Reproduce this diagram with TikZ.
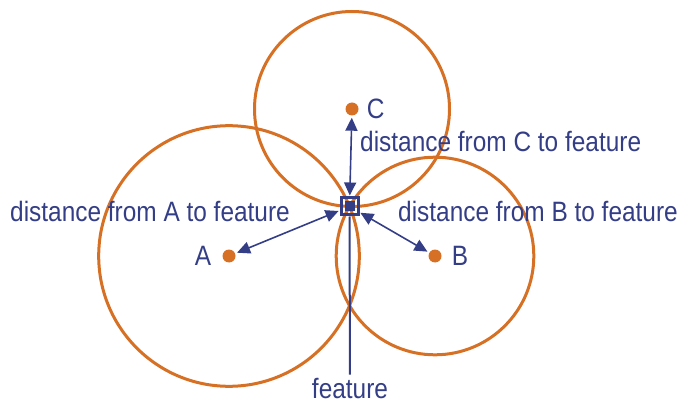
\documentclass[tikz,border=0pt]{standalone}
\usepackage{fontspec}
\setmainfont{Liberation Sans}
\usepackage{graphicx}
\usetikzlibrary{arrows.meta, positioning}
\definecolor{ptorange}{RGB}{214,112,36}
\definecolor{navy}{RGB}{52,62,134}
\newcommand{\narrow}[1]{\scalebox{0.872}[1]{#1}}

\begin{document}
\begin{tikzpicture}[
  x=1pt, y=-1pt,
  node distance=8pt,
  dot/.style={circle, fill=ptorange, minimum size=13pt, inner sep=0pt},
  ring/.style={draw=ptorange, line width=3pt},
  lbl/.style={font=\fontsize{28}{32}\selectfont, text=navy, inner sep=0pt},
  featbox/.style={rectangle, draw=navy, line width=3pt, minimum size=17pt, inner sep=0pt},
  featcore/.style={rectangle, fill=navy, minimum size=10pt, inner sep=0pt},
  arr/.style={{Triangle[length=13pt,width=12pt]}-{Triangle[length=13pt,width=12pt]},
              draw=navy, line width=1.6pt},
  stem/.style={draw=navy, line width=2pt}
]
\useasboundingbox (0,0) rectangle (679,403);

% Points
\node[dot] (ptA) at (229,256) {};
\node[dot] (ptB) at (435,256) {};
\node[dot] (ptC) at (352,109) {};
\node[lbl, left=11pt of ptA] (labA) {\narrow{A}};
\node[lbl, right=10pt of ptB] (labB) {\narrow{B}};
\node[lbl, right=8pt of ptC] (labC) {\narrow{C}};

% Feature
\coordinate (featpos) at (349.5,206.5);

% Circles through the feature
\draw[ring] (ptA.center) circle (130.3pt);
\draw[ring] (ptB.center) circle (98.8pt);
\draw[ring] (ptC.center) circle (97.5pt);

\node[featbox] (feat) at (featpos) {};
\node[featcore] (featin) at (featpos) {};

% Labels
\node[lbl, anchor=base west] (distA) at (10,222) {\narrow{distance from A to feature}};
\node[lbl, anchor=base west] (distB) at (398,222) {\narrow{distance from B to feature}};
\node[lbl, anchor=base west] (distC) at (360,152) {\narrow{distance from C to feature}};
\node[lbl, anchor=base, inner ysep=3pt] (featlbl) at (350,398) {\narrow{feature}};

% Arrows
\draw[arr, shorten <=1pt, shorten >=2pt] (feat) -- (ptA);
\draw[arr, shorten <=1pt, shorten >=2pt] (feat) -- (ptB);
\draw[arr, shorten <=1pt, shorten >=2pt] (feat) -- (ptC);
\draw[stem] (featlbl) -- (feat);

\end{tikzpicture}
\end{document}
